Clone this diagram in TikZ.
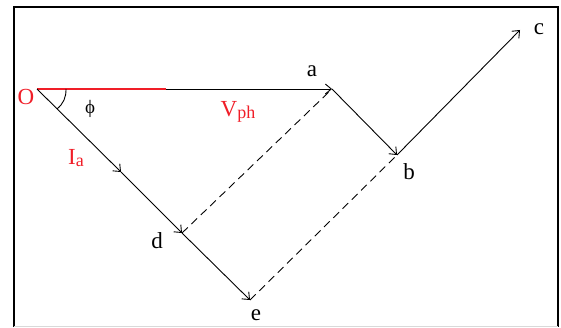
\documentclass[tikz,border=0pt]{standalone}
\usepackage{fontspec}
\setmainfont{Liberation Serif}
\usepackage{tikz}
\usetikzlibrary{arrows.meta}
\definecolor{phRed}{RGB}{240,30,40}

\begin{document}
\begin{tikzpicture}[
  x=1pt, y=1pt,
  font=\fontsize{23}{23}\selectfont,
  vec/.style={-{Straight Barb[length=6pt,width=10pt]}, line width=0.9pt},
  aux/.style={line width=0.9pt, dash pattern=on 8pt off 5pt},
  lbl/.style={inner sep=0pt},
  qty/.style={lbl, text=phRed}
]
\useasboundingbox (0,0) rectangle (561,327);

% frame
\draw[line width=2.4pt] (14,0) -- (14,320) -- (558,320) -- (558,0);
\draw[black!15, line width=1pt] (14,1) -- (558,1);

% phasor tips
\coordinate (O) at (37,238);
\coordinate (r) at (166,238);
\coordinate (a) at (332,238);
\coordinate (b) at (397,172);
\coordinate (c) at (520,297);
\coordinate (im) at (121,155);
\coordinate (d) at (182,94);
\coordinate (e) at (250,27);

\draw[phRed, line width=1.1pt] (O) -- (r);
\draw[vec] (r) -- (a);
\draw[vec] (a) -- (b);
\draw[vec] (b) -- (c);
\draw[vec] (O) -- (im);
\draw[vec] (im) -- (d);
\draw[vec] (d) -- (e);

\draw[aux] (d) -- (a);
\draw[aux] (e) -- (b);

% angle
\coordinate (p1) at (66,238);
\coordinate (p2) at (57,218);
\draw[line width=0.9pt] (p1) to[bend left=25] (p2);

\node[qty] (lO) at (26,230) {O};
\node[lbl, font=\fontsize{19}{19}\selectfont] (lphi) at (90,218) {ϕ};
\node[qty] (lV) at (238,215) {V\raisebox{-2pt}{\fontsize{18}{18}\selectfont ph}};
\node[qty] (lI) at (76,169) {I\raisebox{-2pt}{\fontsize{18}{18}\selectfont a}};
\node[lbl] (la) at (312,256) {a};
\node[lbl] (lb) at (409,155) {b};
\node[lbl] (lc) at (539,298) {c};
\node[lbl] (ld) at (157,86) {d};
\node[lbl] (le) at (256,12) {e};

\end{tikzpicture}
\end{document}
